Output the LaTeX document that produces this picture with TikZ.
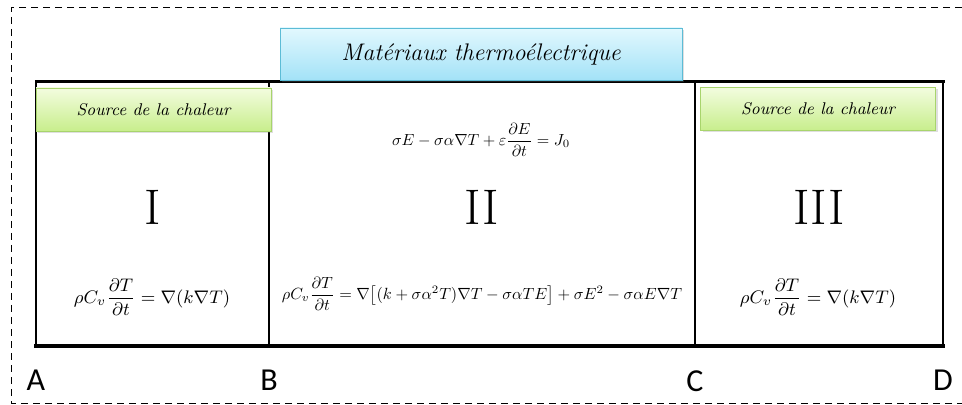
\RequirePackage{fix-cm}
\documentclass[tikz,border=0pt]{standalone}
\usepackage{amsmath}
\usepackage{graphicx}
\usepackage{fontspec}
\newfontfamily\cornerfont{Carlito}
\usetikzlibrary{positioning,shadows}

\definecolor{titleTop}{HTML}{E2F8FE}
\definecolor{titleBottom}{HTML}{A3E2F7}
\definecolor{titleBorder}{HTML}{5CBCD6}
\definecolor{srcTop}{HTML}{F3FCDF}
\definecolor{srcBottom}{HTML}{C8EE8C}
\definecolor{srcBorder}{HTML}{A8D46C}

\begin{document}
\begin{tikzpicture}[
    x=0.5pt,
    y=-0.5pt,
    frame/.style={dash pattern=on 3.5pt off 2.5pt, line width=0.5pt},
    wall/.style={line width=1.2pt, line cap=rect},
    roof/.style={line width=1.5pt, line cap=rect},
    floor/.style={line width=2pt, line cap=rect},
    titlebox/.style={
        rectangle,
        draw=titleBorder,
        top color=titleTop,
        bottom color=titleBottom,
        minimum width=201pt,
        minimum height=26pt,
        drop shadow={opacity=0.25, shadow xshift=1pt, shadow yshift=-1pt},
        font=\fontsize{12}{14}\selectfont\itshape
      },
    source/.style={
        rectangle,
        draw=srcBorder,
        top color=srcTop,
        bottom color=srcBottom,
        minimum width=117.5pt,
        minimum height=21.5pt,
        drop shadow={opacity=0.25, shadow xshift=1pt, shadow yshift=-1pt},
        font=\fontsize{8.5}{10}\selectfont\itshape
      },
    region/.style={font=\fontsize{25}{30}\selectfont},
    law/.style={font=\fontsize{9.1}{11}\selectfont},
    corner/.style={inner sep=0pt, font=\fontsize{16}{18}\selectfont\cornerfont}
    ]

    \useasboundingbox (0,0) rectangle (962,405);

    % dashed outer frame
    \coordinate (f1) at (962,8);
    \coordinate (f2) at (11,8);
    \coordinate (f3) at (11,403);
    \coordinate (f4) at (962,403);
    \draw[frame] (f1) -- (f2) -- (f3) -- (f4);

    % the three regions
    \coordinate (A) at (36,346);
    \coordinate (B) at (269,346);
    \coordinate (C) at (695,346);
    \coordinate (D) at (943,346);
    \coordinate (At) at (36,82);
    \coordinate (Bt) at (269,82);
    \coordinate (Ct) at (695,82);
    \coordinate (Dt) at (943,82);

    \draw[wall] (At) -- (A);
    \draw[wall] (Bt) -- (B);
    \draw[wall] (Ct) -- (C);
    \draw[wall] (Dt) -- (D);
    \draw[roof] (At) -- (Dt);
    \draw[floor] (A) -- (D);

    \node[titlebox] (material) at (481,54) {Matériaux thermoélectrique};
    \node[source] (srcleft) at (153.5,109.5) {Source de la chaleur};
    \node[source] (srcright) at (818,109) {Source de la chaleur};

    \node[region] (one) at (153,207) {I};
    \node[region] (two) at (482,207) {II};
    \node[region] (three) at (819,207) {III};

    \node[law] (heatleft) at (152,297)
        {$\rho C_v\dfrac{\partial T}{\partial t}=\nabla(k\nabla T)$};
    \node[law] (heatright) at (818,297)
        {$\rho C_v\dfrac{\partial T}{\partial t}=\nabla(k\nabla T)$};
    \node (current) at (481,140)
        {\resizebox{89pt}{!}{$\sigma E-\sigma\alpha\nabla T+\varepsilon\dfrac{\partial E}{\partial t}=J_0$}};
    \node (heatmid) at (482,294)
        {\resizebox{200pt}{!}{$\rho C_v\dfrac{\partial T}{\partial t}=\nabla\bigl[(k+\sigma\alpha^2T)\nabla T-\sigma\alpha TE\bigr]+\sigma E^2-\sigma\alpha E\nabla T$}};

    \node[corner, below=12pt of A] (lA) {A};
    \node[corner, below=12pt of B] (lB) {B};
    \node[corner, below=12pt of C] (lC) {C};
    \node[corner, below=12pt of D] (lD) {D};

  \end{tikzpicture}
\end{document}
